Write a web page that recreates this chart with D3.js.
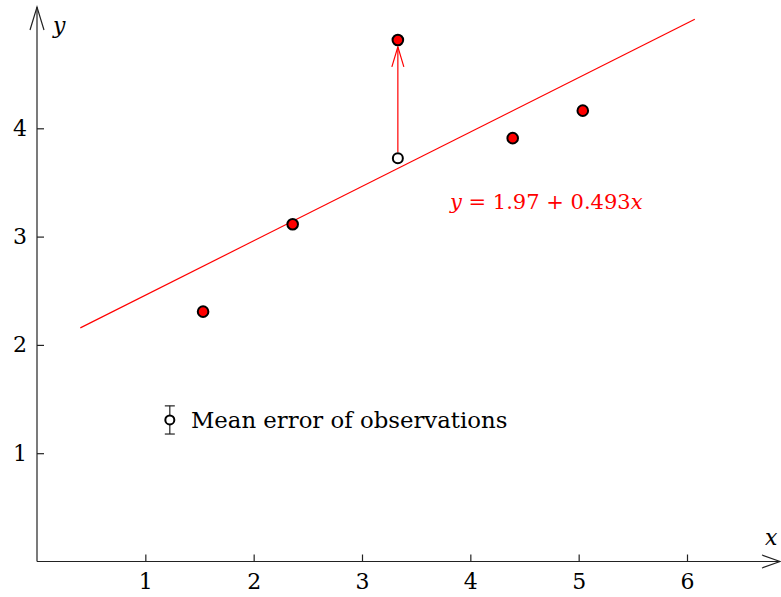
<html>
    <head>
        <style>
            body { margin: 0; background: #fff; }
            text { font-family: "DejaVu Serif", "Liberation Serif", serif; }
        </style>
        <script src="https://d3js.org/d3.v7.min.js"></script>
    </head>
    <body>
        <svg id="plot" width="781" height="597"></svg>
        <script>
            // observations (x, y)
            const obsX = [1.533, 2.360, 3.331, 4.391, 5.038];
            const obsY = [2.307, 3.114, 4.816, 3.909, 4.163];

            // the point that was moved up (open circle) and where it went
            const movedFrom = {x: 3.331, y: 3.724};
            const movedTo = {x: 3.331, y: 4.816};

            // fitted line end points
            const fitX = [0.40, 6.072];
            const fitY = [2.157, 5.007];
            const fitLabel = ["y", " = 1.97 + 0.493", "x"];

            const xTicks = [1, 2, 3, 4, 5, 6];
            const yTicks = [1, 2, 3, 4];

            // legend: mean error bar
            const legendPos = {x: 1.226, y: 1.307, err: 0.13};
            const legendText = "Mean error of observations";

            const svg = d3.select('#plot');
            const ink = '#222';

            const xScale = d3.scaleLinear().domain([0, 6]).range([37, 687]);
            const yScale = d3.scaleLinear().domain([0, 4]).range([561.5, 128.3]);

            // axes (ticks pointing inward)
            const xAxis = svg.append('g')
                .attr('transform', `translate(0, ${yScale(0)})`)
                .call(d3.axisBottom(xScale).tickValues(xTicks).tickFormat(d3.format('d'))
                    .tickSizeInner(-7).tickSizeOuter(0).tickPadding(12));
            const yAxis = svg.append('g')
                .attr('transform', `translate(${xScale(0)}, 0)`)
                .call(d3.axisLeft(yScale).tickValues(yTicks).tickFormat(d3.format('d'))
                    .tickSizeInner(-7).tickSizeOuter(0).tickPadding(10));

            [xAxis, yAxis].forEach(a => {
                a.select('.domain').remove();
                a.selectAll('line').attr('stroke', ink).attr('stroke-width', 1.2);
                a.selectAll('text')
                    .attr('fill', '#000')
                    .style('font-size', '22px')
                    .style('font-family', '"DejaVu Serif", serif');
            });

            // axis lines with open arrow heads
            const x0 = xScale(0), y0 = yScale(0);
            svg.append('line').attr('x1', x0).attr('y1', y0).attr('x2', 780).attr('y2', y0)
                .attr('stroke', ink).attr('stroke-width', 1.2);
            svg.append('line').attr('x1', x0).attr('y1', y0).attr('x2', x0).attr('y2', 7)
                .attr('stroke', ink).attr('stroke-width', 1.2);
            svg.append('polyline').attr('points', `762,555 780,${y0} 762,568`)
                .attr('fill', 'none').attr('stroke', ink).attr('stroke-width', 1.2);
            svg.append('polyline').attr('points', `${x0 - 7},30 ${x0},7 ${x0 + 7},30`)
                .attr('fill', 'none').attr('stroke', ink).attr('stroke-width', 1.2);

            svg.append('text').attr('x', 53).attr('y', 33)
                .style('font-style', 'italic').style('font-size', '22px').text('y');
            svg.append('text').attr('x', 765).attr('y', 545)
                .style('font-style', 'italic').style('font-size', '22px').text('x');

            // fitted line
            svg.append('line')
                .attr('x1', xScale(fitX[0])).attr('y1', yScale(fitY[0]))
                .attr('x2', xScale(fitX[1])).attr('y2', yScale(fitY[1]))
                .attr('stroke', 'red').attr('stroke-width', 1.2);

            const eq = svg.append('text').attr('x', 450).attr('y', 209)
                .attr('fill', 'red').style('font-size', '21px');
            eq.selectAll('tspan').data(fitLabel).enter().append('tspan')
                .style('font-style', (d, i) => i === 1 ? 'normal' : 'italic')
                .text(d => d);

            // arrow from open circle up to the moved point
            const ax = xScale(movedFrom.x);
            svg.append('line')
                .attr('x1', ax).attr('y1', yScale(movedFrom.y) - 6)
                .attr('x2', ax).attr('y2', yScale(movedTo.y) + 7)
                .attr('stroke', 'red').attr('stroke-width', 1.2);
            const tipY = yScale(movedTo.y) + 7;
            svg.append('polyline')
                .attr('points', `${ax - 6},${tipY + 20} ${ax},${tipY} ${ax + 6},${tipY + 20}`)
                .attr('fill', 'none').attr('stroke', 'red').attr('stroke-width', 1.2);

            svg.append('circle')
                .attr('cx', xScale(movedFrom.x)).attr('cy', yScale(movedFrom.y)).attr('r', 5)
                .attr('fill', '#fff').attr('stroke', '#000').attr('stroke-width', 2);

            // observations
            svg.selectAll('circle.obs')
                .data(obsX.map((x, i) => ({x: x, y: obsY[i]})))
                .enter()
                .append('circle')
                .attr('class', 'obs')
                .attr('cx', d => xScale(d.x))
                .attr('cy', d => yScale(d.y))
                .attr('r', 5.3)
                .attr('fill', 'red')
                .attr('stroke', '#000')
                .attr('stroke-width', 2);

            // legend
            const lx = xScale(legendPos.x);
            const lTop = yScale(legendPos.y + legendPos.err), lBot = yScale(legendPos.y - legendPos.err);
            svg.append('line').attr('x1', lx).attr('x2', lx).attr('y1', lTop).attr('y2', lBot)
                .attr('stroke', ink).attr('stroke-width', 1.2);
            [lTop, lBot].forEach(yy => svg.append('line')
                .attr('x1', lx - 5).attr('x2', lx + 5).attr('y1', yy).attr('y2', yy)
                .attr('stroke', ink).attr('stroke-width', 1.2));
            svg.append('circle').attr('cx', lx).attr('cy', yScale(legendPos.y)).attr('r', 4.5)
                .attr('fill', '#fff').attr('stroke', '#000').attr('stroke-width', 2);
            svg.append('text').attr('x', 191).attr('y', 428)
                .style('font-size', '22.8px').text(legendText);
        </script>
    </body>
</html>
